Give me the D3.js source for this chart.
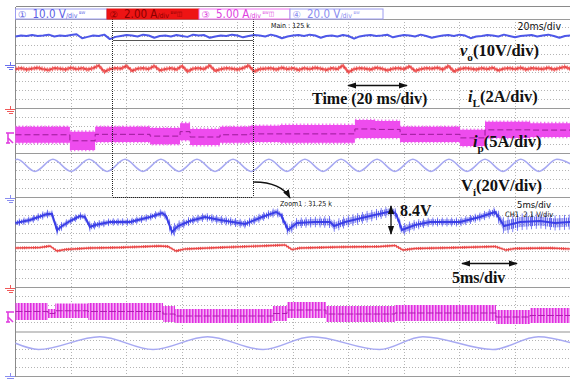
<!DOCTYPE html>
<html>
<head>
<meta charset="utf-8">
<script src="https://cdn.jsdelivr.net/npm/d3@7"></script>
<style>
  body { margin: 0; background: #fff; }
  svg { display: block; }
  .scope { font-family: "Liberation Sans Narrow", "DejaVu Sans Condensed", "Liberation Sans", sans-serif; }
  .note { font-family: "Liberation Serif", "Times New Roman", serif; font-weight: bold; fill: #111; }
</style>
</head>
<body>
<svg id="chart" width="570" height="379"></svg>
<script>
// ---------- Channel settings ----------
const channelLabels = ["10.0 V", "2.00 A", "5.00 A", "20.0 V"];
const channelMarks = ["\u2460", "\u2461", "\u2462", "\u2463"];

// ---------- Main window (20 ms/div, 200 ms span); values in tenths of a division within each lane ----------
const mainSpanMs = 200;
const zoomSpanMs = 50;

// Output voltage v_o, uniformly sampled over the main span
const voMain = [6.1,6.3,6.2,6.4,6.2,6.3,6.5,6.1,6.3,6.2,6.4,6.6,5.7,6.0,6.3,6.2,6.5,5.5,6.0,6.2,
  6.4,6.3,6.1,6.5,6.3,5.8,6.2,6.3,6.1,6.4,6.2,6.0,6.5,6.3,6.4,5.8,6.1,6.3,6.2,6.5,
  6.3,5.9,6.2,6.4,6.3,6.1,6.5,6.2,5.7,6.1,6.3,6.4,6.2,6.5,6.3,5.8,6.2,6.3,6.1,6.4,
  6.2,5.6,6.1,6.3,6.4,6.2,6.3,6.5,5.9,6.2,6.4,6.3,6.1,6.5,6.2,5.8,6.1,6.3,6.4,6.2,
  6.5,6.3,5.7,6.1,6.2,6.4,6.3,6.1,6.5,6.2,5.9,6.2,6.3,6.4,6.1,6.3,6.5,6.2,5.8,6.2,6.3];

// Inductor current i_L, uniformly sampled over the main span
const iLMain = [8.8,9.0,8.7,8.9,9.1,8.8,8.6,9.0,8.9,8.7,9.1,8.8,9.0,8.7,9.0,9.6,8.2,8.8,9.0,8.9,
  9.5,8.4,8.9,9.0,8.8,9.5,8.5,8.8,9.0,8.7,9.5,8.3,8.9,9.0,8.8,9.6,8.4,8.8,9.0,8.9,
  8.7,9.0,9.6,8.3,8.8,8.9,9.0,8.7,9.1,8.8,9.0,8.6,9.0,8.8,9.1,8.9,8.6,9.0,8.8,9.6,
  8.1,8.8,9.0,8.9,8.7,9.1,8.9,8.5,8.9,9.0,8.8,9.4,8.4,8.8,9.0,8.9,9.1,8.7,9.5,8.3,
  8.8,9.0,8.9,8.7,9.0,8.8,9.1,8.5,8.9,9.0,8.8,9.1,8.7,9.0,8.9,8.8,9.1,8.7,9.0,9.3,8.8];

// Primary current i_p ripple envelope: block start times (ms), upper and lower edges
const ipMainT   = [0, 19.6, 28.7, 48.5, 59.3, 62.9, 73.7, 84.5, 95.3, 122.3, 129.6, 138.6, 160.2, 169.2, 185.4];
const ipMainTop = [5.9, 4.8, 5.9, 5.6, 6.7, 5.4, 5.9, 6.1, 6.3, 7.4, 7.2, 5.9, 5.2, 7.0, 6.7];
const ipMainBot = [2.3, 0.7, 2.5, 2.0, 2.9, 1.8, 2.3, 2.5, 2.3, 3.4, 3.4, 2.5, 1.6, 3.4, 3.6];

// Input voltage V_i: crest and trough times (ms) and levels
const viMainT = [0, 0.6, 7.0, 13.5, 20.0, 26.5, 33.0, 39.5, 45.9, 52.4, 58.9, 65.4, 71.9, 78.4, 84.9,
  91.3, 97.8, 104.3, 110.8, 117.3, 123.8, 130.3, 136.7, 143.2, 149.7, 156.2, 162.7, 169.2, 175.6,
  182.1, 188.6, 195.1, 200];
const viMainV = [8.5, 8.6, 5.9, 8.6, 5.9, 8.6, 5.9, 8.6, 5.9, 8.6, 5.9, 8.6, 5.9, 8.6, 5.9,
  8.6, 5.9, 8.6, 5.9, 8.6, 5.9, 8.6, 5.9, 8.6, 5.9, 8.6, 5.9, 8.6, 5.9,
  8.6, 5.9, 8.6, 7.6];

// ---------- Zoom window (5 ms/div, 50 ms span) ----------
// v_o detail: mean level and ripple half-height
const voZoomT = [0, 1.31, 2.84, 3.29, 3.74, 4.19, 4.91, 5.81, 6.26, 6.71, 7.16, 8.51, 10.32, 12.12, 13.2,
  13.56, 14.1, 14.64, 15.72, 17.07, 18.42, 20.68, 22.21, 23.47, 23.92, 24.55, 25.36, 26.98, 28.34, 28.7,
  29.69, 31.94, 33.92, 34.28, 34.82, 35.99, 37.34, 40.05, 41.85, 43.2, 43.56, 44.01, 45.45, 47.25, 48.6, 50];
const voZoomV = [4.36, 5.03, 6.38, 6.38, 2.8, 3.69, 4.81, 5.93, 5.7, 3.47, 3.91, 4.59, 4.59, 5.7, 6.6,
  5.93, 2.35, 3.69, 4.81, 5.7, 5.03, 4.14, 5.7, 6.82, 6.15, 2.8, 4.36, 4.59, 4.59, 3.69,
  4.59, 5.93, 7.05, 6.38, 2.8, 3.91, 4.59, 4.59, 5.7, 6.82, 5.48, 3.69, 4.59, 4.81, 4.36, 4.59];
const voZoomRipple = [0.5, 0.5, 0.55, 0.55, 0.8, 0.55, 0.5, 0.5, 0.5, 0.7, 0.55, 0.5, 0.5, 0.5, 0.55,
  0.55, 1.0, 0.7, 0.55, 0.55, 0.6, 0.6, 0.6, 0.6, 0.6, 0.8, 0.7, 0.7, 0.8, 0.8,
  0.8, 0.75, 0.7, 0.7, 0.8, 0.7, 0.6, 0.6, 0.6, 0.65, 0.9, 1.1, 1.1, 1.0, 1.0, 1.0];

// i_L detail
const iLZoomT = [0, 2.21, 3.11, 3.74, 4.46, 6.71, 9.41, 13.02, 13.74, 14.46, 15.27, 18.42, 22.03, 24.28,
  24.91, 25.63, 29.23, 32.84, 34.19, 34.91, 35.99, 40.05, 43.2, 44.19, 45.0, 48.15, 50];
const iLZoomV = [8.77, 8.88, 9.22, 8.1, 8.43, 8.77, 8.88, 9.22, 9.11, 8.1, 8.55, 8.88, 9.22, 9.44,
  8.43, 8.77, 8.99, 9.11, 9.33, 8.32, 8.66, 8.88, 9.11, 8.32, 8.66, 8.77, 8.55];

// i_p detail: switching-ripple blocks
const ipZoomT   = [0, 2.93, 3.56, 6.53, 13.29, 14.37, 23.2, 24.46, 27.97, 34.19, 43.29, 46.35];
const ipZoomTop = [6.47, 5.12, 6.35, 6.47, 5.79, 5.12, 5.79, 6.69, 5.79, 6.02, 4.9, 5.35];
const ipZoomBot = [2.66, 3.11, 3.11, 2.66, 2.21, 1.99, 2.44, 3.11, 2.21, 2.44, 1.77, 1.99];

// V_i detail: crest/trough times and levels
const viZoomT = [0, 2.07, 7.6, 12.39, 17.3, 22.3, 26.7, 32.8, 36.7, 43.0, 47.1, 50];
const viZoomV = [7.45, 6.06, 8.93, 6.06, 8.93, 6.06, 8.93, 6.06, 8.93, 6.06, 8.93, 7.6];

// ---------- Layout ----------
const W = 570, H = 379;
const plotL = 15.5, plotR = 570.5;
const gridTop = 19, divPx = 44.7, nLanes = 8;

const svg = d3.select("#chart");
const defs = svg.append("defs");

function stripes(id, w, bar, color, bg) {
  const p = defs.append("pattern").attr("id", id).attr("patternUnits", "userSpaceOnUse")
    .attr("width", w).attr("height", 6);
  if (bg) p.append("rect").attr("width", w).attr("height", 6).attr("fill", bg);
  p.append("rect").attr("width", bar).attr("height", 6).attr("fill", color);
}
stripes("stripeBlue", 1.9, 0.8, "#3a3ee8", null);
stripes("stripeBlueSparse", 4.7, 0.8, "#5a5ef0", null);
stripes("stripeRed", 2.2, 0.9, "#e84848", null);
stripes("stripeRedMain", 2.6, 1.0, "#f06a6a", null);
stripes("stripeMag", 3, 1.5, "#e02ee0", "#f5aef5");
stripes("stripeMagEdge", 3.7, 1.3, "#ee66ee", null);

function arrowMarker(id, orient) {
  defs.append("marker").attr("id", id).attr("viewBox", "0 0 10 10").attr("refX", 9).attr("refY", 5)
    .attr("markerWidth", 7).attr("markerHeight", 7).attr("orient", orient)
    .append("path").attr("d", "M0,1.5 L10,5 L0,8.5 Z").attr("fill", "#111");
}
arrowMarker("arrowEnd", "auto");
arrowMarker("arrowBoth", "auto-start-reverse");

const xMain = d3.scaleLinear().domain([0, mainSpanMs]).range([plotL, plotR]);
const xZoom = d3.scaleLinear().domain([0, zoomSpanMs]).range([plotL, plotR]);
const lane = k => d3.scaleLinear().domain([0, 10]).range([gridTop + divPx * (k + 1), gridTop + divPx * k]);
const yLane = d3.range(nLanes).map(lane);

// ---------- Graticule ----------
const grid = svg.append("g").attr("shape-rendering", "crispEdges");
const xTicks = d3.range(1, 10).map(i => xMain(i * mainSpanMs / 10));
grid.selectAll("line.vdot").data(xTicks).join("line")
  .attr("x1", d => d).attr("x2", d => d).attr("y1", gridTop).attr("y2", gridTop + divPx * nLanes)
  .attr("stroke", "#b4b4b4").attr("stroke-dasharray", "1,2");
const subRows = [];
for (let k = 0; k < nLanes; k++) for (let s = 1; s < 5; s++) subRows.push(gridTop + divPx * k + divPx * s / 5);
grid.selectAll("line.hdot").data(subRows).join("line")
  .attr("x1", plotL).attr("x2", plotR).attr("y1", d => d).attr("y2", d => d)
  .attr("stroke", "#b4b4b4").attr("stroke-dasharray", "1,2");
const majorRows = d3.range(1, nLanes + 1).map(k => gridTop + divPx * k);
grid.selectAll("line.hmaj").data(majorRows).join("line")
  .attr("x1", plotL).attr("x2", plotR).attr("y1", d => d).attr("y2", d => d)
  .attr("stroke", (d, i) => i === 6 ? "#c8c8c8" : "#9a9a9a")
  .attr("stroke-width", (d, i) => i === 6 ? 2 : 1);
grid.append("line").attr("x1", plotL).attr("x2", plotL).attr("y1", 6.5).attr("y2", gridTop + divPx * nLanes)
  .attr("stroke", "#8a8a8a");
grid.append("line").attr("x1", plotL).attr("x2", W).attr("y1", 6.5).attr("y2", 6.5).attr("stroke", "#8a8a8a");
grid.append("line").attr("x1", plotL).attr("x2", W).attr("y1", gridTop).attr("y2", gridTop).attr("stroke", "#9a9a9a");

// ---------- Main window traces ----------
const tMain = arr => arr.map((v, i) => [i * mainSpanMs / (arr.length - 1), v]);

svg.append("path").datum(tMain(iLMain))
  .attr("d", d3.area().x(d => xMain(d[0])).y0(d => yLane[1](d[1] - 0.55)).y1(d => yLane[1](d[1] + 0.55)))
  .attr("fill", "url(#stripeRedMain)");
svg.append("path").datum(tMain(iLMain))
  .attr("d", d3.line().x(d => xMain(d[0])).y(d => yLane[1](d[1])))
  .attr("fill", "none").attr("stroke", "#f25a5a").attr("stroke-width", 2.4).attr("stroke-linejoin", "round");
svg.append("path").datum(tMain(iLMain))
  .attr("d", d3.line().x(d => xMain(d[0])).y(d => yLane[1](d[1])))
  .attr("fill", "none").attr("stroke", "#c83030").attr("stroke-width", 0.7).attr("stroke-dasharray", "2,3");

svg.append("path").datum(tMain(voMain))
  .attr("d", d3.line().x(d => xMain(d[0])).y(d => yLane[0](d[1])))
  .attr("fill", "none").attr("stroke", "#4d57e8").attr("stroke-width", 2).attr("stroke-linejoin", "round");

const blocks = (T, hi, lo, span) => T.map((t, i) => ({ t, hi: hi[i], lo: lo[i] }))
  .concat([{ t: span, hi: hi[hi.length - 1], lo: lo[lo.length - 1] }]);

const ipMain = blocks(ipMainT, ipMainTop, ipMainBot, mainSpanMs);
svg.append("path").datum(ipMain)
  .attr("d", d3.area().curve(d3.curveStepAfter).x(d => xMain(d.t)).y0(d => yLane[2](d.lo - 0.3)).y1(d => yLane[2](d.hi + 0.3)))
  .attr("fill", "url(#stripeMagEdge)");
svg.append("path").datum(ipMain)
  .attr("d", d3.area().curve(d3.curveStepAfter).x(d => xMain(d.t)).y0(d => yLane[2](d.lo)).y1(d => yLane[2](d.hi)))
  .attr("fill", "#ee4cee");
svg.append("path").datum(ipMain)
  .attr("d", d3.line().curve(d3.curveStepAfter).x(d => xMain(d.t)).y(d => yLane[2]((d.hi + d.lo) / 2)))
  .attr("fill", "none").attr("stroke", "#9a1c98").attr("stroke-width", 1).attr("stroke-dasharray", "6,3");

svg.append("path").datum(viMainT.map((t, i) => [t, viMainV[i]]))
  .attr("d", d3.line().curve(d3.curveMonotoneX).x(d => xMain(d[0])).y(d => yLane[3](d[1])))
  .attr("fill", "none").attr("stroke", "#a7a9f2").attr("stroke-width", 1.5);

// ---------- Zoom window traces ----------
const voZ = voZoomT.map((t, i) => ({ t, v: voZoomV[i], r: voZoomRipple[i] }));
svg.append("path").datum(voZ)
  .attr("d", d3.area().x(d => xZoom(d.t)).y0(d => yLane[4](d.v - d.r * 1.7)).y1(d => yLane[4](d.v + d.r * 1.7)))
  .attr("fill", "url(#stripeBlueSparse)");
svg.append("path").datum(voZ)
  .attr("d", d3.area().x(d => xZoom(d.t)).y0(d => yLane[4](d.v - d.r)).y1(d => yLane[4](d.v + d.r)))
  .attr("fill", "url(#stripeBlue)");
svg.append("path").datum(voZ)
  .attr("d", d3.line().x(d => xZoom(d.t)).y(d => yLane[4](d.v)))
  .attr("fill", "none").attr("stroke", "#3a3ee6").attr("stroke-width", 2);

const iLZ = iLZoomT.map((t, i) => ({ t, v: iLZoomV[i] }));
svg.append("path").datum(iLZ)
  .attr("d", d3.area().x(d => xZoom(d.t)).y0(d => yLane[5](d.v - 0.35)).y1(d => yLane[5](d.v + 0.35)))
  .attr("fill", "url(#stripeRed)");
svg.append("path").datum(iLZ)
  .attr("d", d3.line().x(d => xZoom(d.t)).y(d => yLane[5](d.v)))
  .attr("fill", "none").attr("stroke", "#ea4848").attr("stroke-width", 1.3);

const ipZ = blocks(ipZoomT, ipZoomTop, ipZoomBot, zoomSpanMs);
svg.append("path").datum(ipZ)
  .attr("d", d3.area().curve(d3.curveStepAfter).x(d => xZoom(d.t)).y0(d => yLane[6](d.lo)).y1(d => yLane[6](d.hi)))
  .attr("fill", "url(#stripeMag)");
svg.append("path").datum(ipZ)
  .attr("d", d3.line().curve(d3.curveStepAfter).x(d => xZoom(d.t)).y(d => yLane[6]((d.hi + d.lo) / 2)))
  .attr("fill", "none").attr("stroke", "#b020b0").attr("stroke-width", 1).attr("stroke-dasharray", "7,2");

svg.append("path").datum(viZoomT.map((t, i) => [t, viZoomV[i]]))
  .attr("d", d3.line().curve(d3.curveMonotoneX).x(d => xZoom(d[0])).y(d => yLane[7](d[1])))
  .attr("fill", "none").attr("stroke", "#a7a9f2").attr("stroke-width", 1.5);

// ---------- Zoom frame ----------
const zx0 = xMain(35), zx1 = xMain(85.6);
const frame = svg.append("g").attr("shape-rendering", "crispEdges").attr("fill", "none");
frame.append("line").attr("x1", zx0).attr("x2", zx0).attr("y1", gridTop).attr("y2", 197).attr("stroke", "#222").attr("stroke-dasharray", "1,1");
frame.append("line").attr("x1", zx1).attr("x2", zx1).attr("y1", gridTop).attr("y2", 197).attr("stroke", "#222").attr("stroke-dasharray", "1,1");
frame.append("line").attr("x1", zx0).attr("x2", zx1).attr("y1", 197).attr("y2", 197).attr("stroke", "#222").attr("stroke-dasharray", "1,1");
frame.append("line").attr("x1", zx0).attr("x2", zx1).attr("y1", 31).attr("y2", 31).attr("stroke", "#555");
frame.append("line").attr("x1", zx0).attr("x2", zx1).attr("y1", 40).attr("y2", 40).attr("stroke", "#555");

svg.append("path").attr("d", `M${zx1},182 Q281,182 290,198`)
  .attr("fill", "none").attr("stroke", "#111").attr("stroke-width", 1.3).attr("marker-end", "url(#arrowEnd)");

// ---------- Ground / channel markers ----------
function ground(y, color) {
  const g = svg.append("g").attr("stroke", color).attr("stroke-width", 1).attr("shape-rendering", "crispEdges");
  g.append("line").attr("x1", 10.5).attr("x2", 10.5).attr("y1", y - 3).attr("y2", y);
  g.append("line").attr("x1", 5).attr("x2", 15).attr("y1", y + 0.5).attr("y2", y + 0.5);
  g.append("line").attr("x1", 6.5).attr("x2", 13.5).attr("y1", y + 2.5).attr("y2", y + 2.5);
  g.append("line").attr("x1", 8.5).attr("x2", 12.5).attr("y1", y + 4.5).attr("y2", y + 4.5);
}
function trigMark(y, color) {
  const g = svg.append("g").attr("stroke", color).attr("stroke-width", 1.6).attr("fill", "none");
  g.append("line").attr("x1", 6).attr("x2", 14).attr("y1", y).attr("y2", y);
  g.append("line").attr("x1", 8).attr("x2", 8).attr("y1", y).attr("y2", y + 10);
  g.append("line").attr("x1", 8).attr("x2", 13).attr("y1", y + 5).attr("y2", y + 10);
  g.append("line").attr("x1", 6).attr("x2", 10).attr("y1", y + 10).attr("y2", y + 10);
}
ground(65, "#6a70ee");
ground(109, "#f05a5a");
trigMark(133, "#e040e0");
ground(198, "#8a8ef0");
ground(288, "#f05a5a");
trigMark(312, "#e040e0");
ground(376, "#8a8ef0");

// ---------- Channel readout boxes ----------
const boxes = [
  { x: 15.5, w: 91.5, stroke: "#9c9cf0", fill: "#fff", text: "#5a5ee6" },
  { x: 107, w: 92, stroke: "#e81010", fill: "#ee1414", text: "#8a0000" },
  { x: 199, w: 91, stroke: "#f070f0", fill: "#fff", text: "#e040e0" },
  { x: 290, w: 93, stroke: "#9c9cf0", fill: "#fff", text: "#8a8cf0" }
];
const hdr = svg.append("g").attr("class", "scope");
boxes.forEach((b, i) => {
  hdr.append("rect").attr("x", b.x).attr("y", 9).attr("width", b.w).attr("height", 10)
    .attr("fill", b.fill).attr("stroke", b.stroke).attr("stroke-width", 1);
  const t = hdr.append("text").attr("x", b.x + 2.5).attr("y", 18).attr("fill", b.text).attr("font-size", 11.5);
  t.append("tspan").text(channelMarks[i]).attr("font-family", "DejaVu Sans").attr("font-size", 9.5).attr("dy", -0.5);
  t.append("tspan").attr("dx", 6).attr("dy", 0.5).text(channelLabels[i]);
  t.append("tspan").attr("font-size", 7).text("/div");
  t.append("tspan").attr("font-size", 6.5).attr("dx", 1.5).attr("dy", -2.5).text(i === 0 || i === 3 ? "ᴮᵂ" : "ᴮᵂ◫");
});

// ---------- Scope readouts ----------
const ro = svg.append("g").attr("class", "scope").attr("fill", "#111");
ro.append("text").attr("x", 271).attr("y", 28).attr("font-size", 7).text("Main : 125 k");
ro.append("text").attr("x", 561).attr("y", 30).attr("text-anchor", "end").attr("font-size", 10.5).text("20ms/div");
ro.append("text").attr("x", 280).attr("y", 206).attr("font-size", 7).text("Zoom1 : 31.25 k");
ro.append("text").attr("x", 551).attr("y", 207.5).attr("text-anchor", "end").attr("font-size", 9.5).text("5ms/div");
ro.append("text").attr("x", 505).attr("y", 216.5).attr("font-size", 7.5).attr("xml:space", "preserve").text("CH1  2.1 V/div");

// ---------- Annotations ----------
const notes = svg.append("g").attr("class", "note");
function label(x, y, main, sub, rest, size) {
  const t = notes.append("text").attr("x", x).attr("y", y).attr("font-size", size);
  t.append("tspan").attr("font-style", "italic").text(main);
  t.append("tspan").attr("font-size", size * 0.68).attr("dy", size * 0.28).text(sub);
  t.append("tspan").attr("dy", -size * 0.28).text(rest);
}
label(460, 56, "v", "o", "(10V/div)", 16.5);
label(468, 102, "i", "L", "(2A/div)", 16.5);
label(473, 147, "i", "p", "(5A/div)", 16.5);
const vi = notes.append("text").attr("x", 461).attr("y", 191).attr("font-size", 16.5);
vi.append("tspan").text("V");
vi.append("tspan").attr("font-size", 11).attr("dy", 4.5).text("i");
vi.append("tspan").attr("dy", -4.5).text("(20V/div)");
notes.append("text").attr("x", 312).attr("y", 104).attr("font-size", 16).text("Time (20 ms/div)");
notes.append("text").attr("x", 400).attr("y", 216).attr("font-size", 16).text("8.4V");
notes.append("text").attr("x", 452).attr("y", 283).attr("font-size", 16).text("5ms/div");

const arrows = svg.append("g").attr("stroke", "#111").attr("stroke-width", 1.3);
arrows.append("line").attr("x1", 348).attr("x2", 407).attr("y1", 85.5).attr("y2", 85.5)
  .attr("marker-start", "url(#arrowBoth)").attr("marker-end", "url(#arrowBoth)");
arrows.append("line").attr("x1", 391).attr("x2", 391).attr("y1", 206).attr("y2", 234)
  .attr("marker-start", "url(#arrowBoth)").attr("marker-end", "url(#arrowBoth)");
arrows.append("line").attr("x1", 462).attr("x2", 517).attr("y1", 263.5).attr("y2", 263.5)
  .attr("marker-start", "url(#arrowBoth)").attr("marker-end", "url(#arrowBoth)");
</script>
</body>
</html>
